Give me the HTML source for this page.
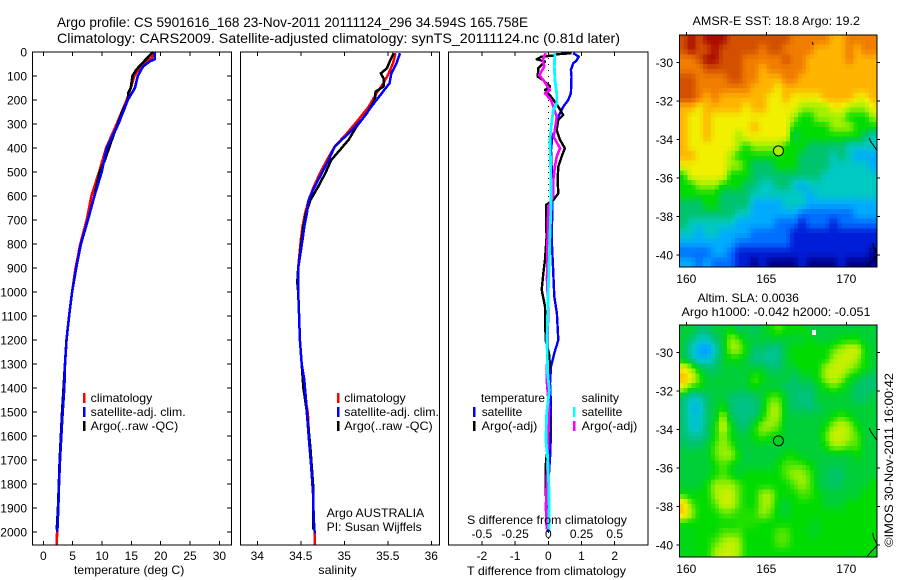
<!DOCTYPE html>
<html lang="en">
<head>
<meta charset="utf-8">
<title>Argo profile chart</title>
<style>
html,body{margin:0;padding:0;background:#fff;}
#chart{display:block;width:900px;height:580px;}
text{font-family:"Liberation Sans",sans-serif;font-size:12px;fill:#000;}
.t14{font-size:14px;}
</style>
</head>
<body>
<svg id="chart" xmlns="http://www.w3.org/2000/svg" width="900" height="580" viewBox="0 0 900 580">
<rect width="900" height="580" fill="#fff"/>
<text class="t14" x="57" y="27" textLength="471" lengthAdjust="spacingAndGlyphs">Argo profile: CS 5901616_168 23-Nov-2011 20111124_296 34.594S 165.758E</text>
<text class="t14" x="57" y="43" textLength="563" lengthAdjust="spacingAndGlyphs">Climatology: CARS2009. Satellite-adjusted climatology: synTS_20111124.nc (0.81d later)</text>

<g id="p1"></g>
<g id="p2"></g>
<g id="p3"></g>
<g id="m1"></g>
<g id="m2"></g>

<text x="74" y="574" textLength="110.3" lengthAdjust="spacingAndGlyphs">temperature (deg C)</text>
<text x="318.3" y="574" textLength="38.4" lengthAdjust="spacingAndGlyphs">salinity</text>
<text x="467" y="575" textLength="159" lengthAdjust="spacingAndGlyphs">T difference from climatology</text>
<text x="467" y="524" textLength="160" lengthAdjust="spacingAndGlyphs">S difference from climatology</text>

<g>
<rect x="83" y="393" width="2.5" height="10" fill="#f00"/>
<rect x="83" y="407" width="2.5" height="10" fill="#00f"/>
<rect x="83" y="421" width="2.5" height="10" fill="#000"/>
<text x="90.7" y="402" textLength="61.6" lengthAdjust="spacingAndGlyphs">climatology</text>
<text x="90.7" y="416" textLength="95" lengthAdjust="spacingAndGlyphs">satellite-adj. clim.</text>
<text x="90.7" y="430" textLength="87.6" lengthAdjust="spacingAndGlyphs">Argo(..raw -QC)</text>
</g>
<g>
<rect x="337" y="393" width="2.5" height="10" fill="#f00"/>
<rect x="337" y="407" width="2.5" height="10" fill="#00f"/>
<rect x="337" y="421" width="2.5" height="10" fill="#000"/>
<text x="344.3" y="402" textLength="61.4" lengthAdjust="spacingAndGlyphs">climatology</text>
<text x="344.3" y="416" textLength="94.7" lengthAdjust="spacingAndGlyphs">satellite-adj. clim.</text>
<text x="344.3" y="430" textLength="88.4" lengthAdjust="spacingAndGlyphs">Argo(..raw -QC)</text>
<text x="326.7" y="517" textLength="97.6" lengthAdjust="spacingAndGlyphs">Argo AUSTRALIA</text>
<text x="326.7" y="531" textLength="95" lengthAdjust="spacingAndGlyphs">PI: Susan Wijffels</text>
</g>
<g>
<text x="481" y="402" textLength="64" lengthAdjust="spacingAndGlyphs">temperature</text>
<text x="481.7" y="416" textLength="40.6" lengthAdjust="spacingAndGlyphs">satellite</text>
<text x="481.7" y="430" textLength="55.6" lengthAdjust="spacingAndGlyphs">Argo(-adj)</text>
<text x="581.7" y="402" textLength="37.3" lengthAdjust="spacingAndGlyphs">salinity</text>
<text x="581.7" y="416" textLength="40.6" lengthAdjust="spacingAndGlyphs">satellite</text>
<text x="581.7" y="430" textLength="55.6" lengthAdjust="spacingAndGlyphs">Argo(-adj)</text>
<rect x="473" y="407" width="2.5" height="10" fill="#00f"/>
<rect x="473" y="421" width="2.5" height="10" fill="#000"/>
<rect x="573" y="407" width="2.5" height="10" fill="#0ff"/>
<rect x="573" y="421" width="2.5" height="10" fill="#f0f"/>
</g>

<text x="692.5" y="25" textLength="167.5" lengthAdjust="spacingAndGlyphs">AMSR-E SST: 18.8 Argo: 19.2</text>
<text x="697.5" y="302" textLength="101.5" lengthAdjust="spacingAndGlyphs">Altim. SLA: 0.0036</text>
<text x="681.5" y="316" textLength="189" lengthAdjust="spacingAndGlyphs">Argo h1000: -0.042 h2000: -0.051</text>
<text transform="translate(893,547) rotate(-90)" textLength="174" lengthAdjust="spacingAndGlyphs">©IMOS 30-Nov-2011 16:00:42</text>
</svg>

<script>
// ---- shared depth axis ----
const depthTicks = [0,100,200,300,400,500,600,700,800,900,1000,1100,1200,1300,1400,1500,1600,1700,1800,1900,2000];

// ---- temperature panel ----
const tempTicks = [0,5,10,15,20,25,30];
const tempClimDepth = [0,25,50,100,150,200,300,400,500,600,700,800,900,1000,1100,1200,1300,1400,1500,1600,1700,1800,1900,2000,2054];
const tempClim = [18.6,18.5,16.8,15.5,14.9,14.2,12.5,10.7,9.5,8.2,7.4,6.3,5.5,4.9,4.4,3.95,3.7,3.55,3.2,3.0,2.85,2.67,2.56,2.35,2.28];
const tempSatDepth = [0,25,30,40,60,100,150,200,300,400,500,600,700,800,900,1000,1100,1200,1300,1400,1500,1600,1700,1800,1900,2000];
const tempSat = [19.0,19.0,19.0,18.1,17.0,16.1,15.6,14.4,12.8,10.8,9.95,8.7,7.6,6.4,5.6,4.9,4.4,3.95,3.7,3.58,3.3,3.07,2.85,2.67,2.56,2.39];
const tempArgoDepth = [0,20,35,75,100,150,170,200,250,300,350,400,450,500,600,700,800,900,1000,1100,1200,1300,1400,1500,1600,1700,1800,1900,1990];
const tempArgo = [18.7,17.9,17.3,15.8,15.2,14.9,14.5,14.4,13.4,12.7,11.9,11.2,10.5,9.6,8.7,7.6,6.4,5.6,4.9,4.4,3.95,3.7,3.45,3.2,3.0,2.8,2.65,2.5,2.3];

// ---- salinity panel ----
const salTicks = [34,34.5,35,35.5,36];
const salClimDepth = [5,47,89,130,172,228,283,339,394,450,506,561,617,672,728,783,900,1000,1100,1200,1300,1400,1500,1644,1728,1839,1950,2006,2054];
const salClim = [35.59,35.56,35.51,35.45,35.37,35.28,35.16,35.03,34.89,34.80,34.72,34.65,34.59,34.55,34.52,34.50,34.47,34.47,34.48,34.49,34.51,34.53,34.58,34.60,34.62,34.64,34.65,34.66,34.66];
const salSatDepth = [5,47,89,130,172,228,283,339,394,450,506,561,617,672,728,783,900,1000,1100,1200,1300,1367,1450,1506,1644,1728,1839,1950,2006];
const salSat = [35.64,35.60,35.54,35.52,35.43,35.31,35.20,35.05,34.89,34.82,34.74,34.66,34.59,34.57,34.54,34.52,34.47,34.47,34.48,34.49,34.51,34.54,34.56,34.57,34.60,34.62,34.64,34.65,34.66];
const salArgoDepth = [5,33,68,89,110,144,165,200,255,311,366,408,450,506,561,617,672,728,783,900,960,1000,1100,1200,1300,1400,1500,1650,1800,1990];
const salArgo = [35.57,35.53,35.49,35.42,35.45,35.45,35.36,35.35,35.26,35.14,35.05,34.95,34.85,34.78,34.70,34.61,34.56,34.53,34.51,34.47,34.46,34.47,34.48,34.49,34.51,34.53,34.57,34.61,34.64,34.64];

// ---- difference panel ----
const tDiffTicks = [-2,-1,0,1,2];
const sDiffTicks = [-0.5,-0.25,0,0.25,0.5];
const sDiffTickLabels = ["-0.5","-0.25","0","0.25","0.5"];
const tSatDepth = [5,19,36,47,75,103,172,200,228,269,311,353,408,478,547,644,672,769,922,1019,1089,1200,1255,1311,1380,1477,1561,1672,1755,1894,2000];
const tSatDiff = [0.75,0.92,0.85,0.75,0.68,0.70,0.68,0.60,0.45,0.30,0.25,0.12,0.08,0.10,0.10,0.12,0.12,0.10,0.15,0.18,0.26,0.30,0.18,0.08,0.05,0.08,0.08,0.06,0.02,0.02,0];
const tArgoDepth = [5,10,14,19,30,40,68,103,117,144,158,186,228,263,283,325,366,401,436,478,533,589,617,637,700,769,866,922,991,1061,1200,1255,1311,1366,1450,1561,1616,1700,1825,1894,1990];
const tArgoDiff = [0.7,0.2,0.2,-0.2,-0.35,-0.1,-0.3,-0.32,-0.15,0.05,-0.1,0.08,0.3,0.45,0.30,0.25,0.35,0.5,0.4,0.3,0.28,0.3,0.15,-0.07,-0.07,-0.05,-0.1,-0.15,-0.2,-0.1,-0.08,0.02,0.05,-0.05,0,0.05,0.03,-0.07,-0.08,-0.05,-0.05];
const sSatDepth = [5,61,117,172,214,242,297,366,478,575,644,769,991,1200,1339,1408,1505,1616,1686,1825,1990];
const sSatDiff = [0.05,0.045,0.05,0.063,0.063,0.038,0.025,0.012,0.018,0.02,0.02,0.012,0,-0.01,-0.005,0.008,-0.012,-0.018,-0.005,0.005,0.005];
const sArgoDepth = [5,33,61,96,117,158,172,200,228,269,325,353,401,436,478,533,603,644,769,950,1061,1200,1366,1477,1616,1894,1990];
const sArgoDiff = [-0.02,-0.043,-0.03,-0.068,-0.038,0.012,-0.025,0.02,0.038,0.063,0.05,0.04,0.088,0.063,0.05,0.038,0.038,0,-0.005,-0.01,0,-0.005,-0.012,0.005,0,-0.018,-0.012];

// ---- maps ----
const lonTicks = [160,165,170];
const latTicks = [-30,-32,-34,-36,-38,-40];
const profileLon = 165.758;
const profileLat = -34.594;
const sstProfileLevel = 7;
const coastNorthLon = [171.43,171.52,171.9];
const coastNorthLat = [-33.92,-34.1,-34.55];
const coastSouthLon = [171.65,171.7,171.95,171.31];
const coastSouthLat = [-39.37,-39.6,-40.0,-40.57];
const coastIslandLon = [167.87,167.94];
const coastIslandLat = [-28.95,-29.1];
const sstCells = [
[11,12,11,12,12,12,11,11,11,11,11,11,11,11,10,10,10,10,10,9,9,10,10,10,10],
[11,12,11,11,12,11,11,11,11,11,10,11,11,10,10,10,10,9,9,9,9,10,9,10,10],
[10,10,11,12,12,11,11,11,10,10,10,10,10,11,10,10,9,9,9,9,9,10,9,9,9],
[10,10,10,11,11,11,11,11,10,10,9,10,10,10,10,10,9,9,9,9,9,9,9,9,9],
[11,11,10,10,10,10,11,11,10,10,9,9,9,10,10,9,9,9,9,9,9,9,9,9,9],
[11,11,10,10,10,10,10,10,10,9,9,9,8,9,9,9,9,9,9,9,9,9,9,9,9],
[11,11,10,9,10,9,9,9,9,9,9,8,8,9,8,8,8,8,9,9,9,9,8,8,9],
[9,9,8,9,9,9,9,9,8,9,9,8,8,8,8,7,7,7,7,8,8,7,7,7,8],
[9,8,8,9,8,8,8,8,8,8,8,8,8,8,7,6,6,7,7,7,7,6,6,6,7],
[9,8,8,9,8,8,8,8,8,9,8,8,8,8,6,6,6,6,6,7,7,7,6,6,6],
[9,8,8,9,8,8,8,7,8,8,8,8,8,8,5,6,6,6,6,6,6,6,6,5,4],
[9,8,8,8,8,8,8,7,6,7,7,7,7,6,6,6,5,5,5,5,5,4,4,4,4],
[9,9,8,8,8,8,7,6,6,6,6,6,6,6,6,5,5,5,5,4,5,4,3,3,3],
[8,8,8,8,8,8,7,7,6,5,5,5,6,6,6,5,5,5,5,4,4,4,4,4,3],
[6,8,8,8,8,8,6,6,6,5,5,5,5,5,5,5,5,5,4,4,4,4,4,4,4],
[6,6,7,7,7,6,6,6,5,5,4,4,5,5,4,3,4,4,4,4,4,4,4,4,4],
[6,6,6,6,6,5,5,5,5,4,4,4,4,4,4,4,3,4,4,4,4,4,4,4,4],
[5,5,5,6,6,5,5,5,5,3,3,3,3,4,4,4,3,3,3,3,3,3,3,3,3],
[5,5,5,5,5,5,5,4,4,3,3,3,3,3,3,2,2,2,2,2,2,2,3,3,3],
[5,4,4,4,4,4,4,3,3,3,3,3,2,2,2,1,2,2,2,1,2,2,2,2,2],
[4,4,3,4,4,3,3,3,3,2,2,2,2,2,1,1,1,1,1,1,1,1,1,1,1],
[3,3,3,3,3,3,3,2,2,2,2,2,2,2,1,1,1,1,1,1,1,1,1,1,1],
[2,2,2,2,3,3,2,1,1,1,1,1,1,1,1,1,1,1,1,1,1,1,1,1,0],
[3,3,2,3,2,2,2,1,1,0,1,0,0,0,0,1,0,0,0,0,1,0,0,0,0]
];
const slaCells = [
[5.5,5.5,5,5,5.5,5.5,6,5,5.5,5,5.5,6,6.5,6,6,6,5.5,5.5,5.5,5.5,5.5,5.5,5.5,5.5,5.5],
[5.5,5,4,4,5,5.5,7,6.5,5.5,5.5,5.5,5.5,5.5,5.5,5.5,5.5,6,5.5,5.5,5.5,6,6,6,5.5,5.5],
[5.5,4,3,2.5,4,5.5,7,7,6,5,5,4.7,4.7,5.5,6,6,6,6,6,6.5,7,7.5,7.5,6,5.5],
[5.5,4.5,3.5,3.5,4.5,5.5,6,6,5.5,4.7,4.7,4.5,4.7,5.5,6,6,6,6,6,7,7.5,7.5,7,6,5.5],
[8,7,5.5,5,5,5.5,5.5,5.5,5.5,5.5,5.5,5,5,5.5,5.5,6,6,6,7,7.5,7.5,7,6.5,6,5.5],
[9,8,6.5,5.5,5.5,5.5,5.5,5.5,5.5,6.5,6,5.5,5.5,5.5,5,5.5,5.5,6,7,7.5,7,6,5.5,5,5],
[7.5,6,6,5.5,5.5,5.5,5.5,5.5,5.5,6,5.5,5.5,5.5,5,5,5,5,5.5,6,6.5,6,5.5,5,5,5],
[5,4,4.2,5,5.5,5.5,5,4.8,4.8,5,5.5,6.5,6.5,5.5,5,4.8,4.8,5.5,5.5,5.5,5.5,5.5,5,5,5.5],
[5,3.5,3.5,5,5.5,6,5,4.7,4.7,4.7,5.5,7,7,5.5,5,5,4.8,5.2,5.5,5.5,5.5,5.5,5.5,5.5,5.5],
[5,3.8,3.8,5,5.5,7.2,5.2,4.8,4.8,5,6,7,7,5.5,5.5,5.5,5.5,5.5,5.5,6,6.5,6,5.5,5.5,5.5],
[5,3.8,3.8,5,6,7.5,6,5,5,6,7,7,6.5,5.5,5.5,5.5,5.5,5.5,6,7,7.5,7,6,5.5,5.5],
[5,4.5,4.5,5,6,7,6,5.5,5.5,6,6.5,6,6,5.5,5.5,5.5,5.5,5.5,6.5,7.5,7.5,7,6.5,5.5,5.5],
[5.2,5.2,5.2,5.5,6.5,7,6.5,5.5,5.5,5.5,5.5,5.5,5.5,5.5,5.5,5.5,5.5,5.5,6,7,7,6.5,6.5,5.5,5.5],
[5.5,5.5,5.5,5.5,6.5,7,7,6,5.3,5.5,5.5,5.5,5.5,6,6,5.5,5.5,5.5,5.5,5.5,5.5,5.5,6,5.5,5.5],
[5.5,5.5,5.5,5.5,6,6.5,6,5.5,5.5,5.5,5.5,5.5,6,6.5,6.5,6.5,6,5.5,5.3,5.3,5.3,5.5,5.5,5.5,5.5],
[5.5,5.5,5.5,5.5,6,6.5,6,5.5,6,6,6,6,6,6.5,7,7,6.5,5.5,5.3,5,5,5.5,5.5,5.5,5.5],
[5.5,5.5,5.5,6,7,7,7,6.5,6,6,6,6,6,6,6.5,7,6.5,5.5,5.3,5,5.3,5.5,5.5,5.5,6],
[6,5.8,6,6,7,7.5,7.5,6.5,6,6,7,7,6,6,6,6.5,6.3,6,5.5,5.5,5.5,5.5,5.5,6,6],
[8.5,6.5,6,6,6.5,7.5,7.5,6.5,6,6,7,7,5.8,5.5,6,6,6,6,5.5,5.5,5.5,6,6,6,6],
[8.7,7,6,6,6,6.5,6.5,6.2,6.2,6.2,7,6.5,5.8,5.5,6,6,6,6,6,6,6,6,6,6,6],
[6,6,6,6,6,6,6,6.2,6.2,6.2,6,6,6,6,6,6,5.8,5.7,6,6,6,6,6,6,6],
[5.8,5.8,6,6,6,6.5,6.5,6.5,6,6,6,6,6.5,6.5,6,6,5.7,5.7,6,6,6,6,6,6,6],
[5.8,5.8,6,6,6.5,7,7.5,7,6,6,6,6,6.5,6.5,6,6,6,6,6,6,6,6,6,6,6],
[5.8,5.8,6,6,7,7.5,7.5,7,6,6,6,6,6,6,6,6,6,6,6,6,6,5.8,6,6,6]
];
</script>
<script>
const NS = 'http://www.w3.org/2000/svg';
const DEPTH_TOP = 52, DEPTH_SCALE = 0.24;
const yDepth = d => DEPTH_TOP + d * DEPTH_SCALE;
const xTemp = t => 43.3 + t * 5.87;
const xSal = s => 257.3 + (s - 34) * 87;
const xTDiff = t => 548.3 + t * 33.2;
const xSDiff = s => 548.3 + s * 132.8;

function mk(parent, tag, attrs, txt) {
  const el = document.createElementNS(NS, tag);
  for (const k in attrs) el.setAttribute(k, attrs[k]);
  if (txt !== undefined) el.textContent = txt;
  parent.appendChild(el);
  return el;
}
function tickLine(parent, x1, y1, x2, y2) {
  const el = mk(parent, 'line', {x1, y1, x2, y2, stroke: '#000', 'stroke-width': 1, 'shape-rendering': 'crispEdges'});
  
  
  return el;
}
function label(parent, x, y, anchor, txt) {
  const el = mk(parent, 'text', {x, y, 'text-anchor': anchor}, txt);
  
  
  return el;
}
function frame(parent, x, y, w, h) {
  const el = mk(parent, 'rect', {x, y, width: w, height: h, fill: 'none', stroke: '#000', 'stroke-width': 1.2, 'shape-rendering': 'crispEdges'});
  
  
  return el;
}
function series(parent, xs, depths, xFn, color, width, name) {
  const pts = xs.map((v, i) => xFn(v).toFixed(1) + ',' + yDepth(depths[i]).toFixed(1)).join(' ');
  const el = mk(parent, 'polyline', {points: pts, fill: 'none', stroke: color, 'stroke-width': width, 'stroke-linejoin': 'round', 'shape-rendering': 'crispEdges'});
  
  
  return el;
}

const PANEL_TOP = 52, PANEL_BOTTOM = 545;

// temperature panel
const p1 = document.getElementById('p1');
series(p1, tempClim, tempClimDepth, xTemp, '#f00', 2.6, 'climatology-line');
series(p1, tempArgo, tempArgoDepth, xTemp, '#000', 2.6, 'argo-line');
series(p1, tempSat, tempSatDepth, xTemp, '#00f', 2.6, 'satellite-line');
frame(p1, 32.5, PANEL_TOP, 199, PANEL_BOTTOM - PANEL_TOP);
tempTicks.forEach(t => {
  tickLine(p1, xTemp(t), PANEL_TOP, xTemp(t), PANEL_TOP + 4);
  tickLine(p1, xTemp(t), PANEL_BOTTOM, xTemp(t), PANEL_BOTTOM - 4);
  label(p1, xTemp(t), 560, 'middle', String(t));
});
depthTicks.forEach(d => {
  tickLine(p1, 32.5, yDepth(d), 37, yDepth(d));
  tickLine(p1, 231.5, yDepth(d), 227, yDepth(d));
  label(p1, 27, yDepth(d) + 4.5, 'end', String(d));
});

// salinity panel
const p2 = document.getElementById('p2');
series(p2, salClim, salClimDepth, xSal, '#f00', 2.5, 'climatology-line');
series(p2, salArgo, salArgoDepth, xSal, '#000', 2.5, 'argo-line');
series(p2, salSat, salSatDepth, xSal, '#00f', 2.5, 'satellite-line');
frame(p2, 240.5, PANEL_TOP, 199, PANEL_BOTTOM - PANEL_TOP);
salTicks.forEach(s => {
  tickLine(p2, xSal(s), PANEL_TOP, xSal(s), PANEL_TOP + 4);
  tickLine(p2, xSal(s), PANEL_BOTTOM, xSal(s), PANEL_BOTTOM - 4);
  label(p2, xSal(s), 560, 'middle', String(s));
});

// difference panel
const p3 = document.getElementById('p3');
const zeroLine = mk(p3, 'line', {x1: xTDiff(0), y1: PANEL_TOP, x2: xTDiff(0), y2: PANEL_BOTTOM, stroke: '#000', 'stroke-width': 1, 'stroke-dasharray': '1 5', 'shape-rendering': 'crispEdges'});


series(p3, tSatDiff, tSatDepth, xTDiff, '#00f', 2.4, 't-satellite-line');
series(p3, tArgoDiff, tArgoDepth, xTDiff, '#000', 2.4, 't-argo-line');
series(p3, sArgoDiff, sArgoDepth, xSDiff, '#f0f', 2.6, 's-argo-line');
series(p3, sSatDiff, sSatDepth, xSDiff, '#0ff', 2.8, 's-satellite-line');
frame(p3, 448.5, PANEL_TOP, 199.5, PANEL_BOTTOM - PANEL_TOP);
tDiffTicks.forEach(t => {
  tickLine(p3, xTDiff(t), PANEL_TOP, xTDiff(t), PANEL_TOP + 4);
  tickLine(p3, xTDiff(t), PANEL_BOTTOM, xTDiff(t), PANEL_BOTTOM - 4);
  label(p3, xTDiff(t), 560, 'middle', String(t));
});
sDiffTicks.forEach((s, i) => {
  label(p3, xSDiff(s), 538, 'middle', sDiffTickLabels[i]);
});

// colour scale for map levels (0 = cold/low, 12 = warm/high)
const ramp = [[0,0,140],[0,30,215],[0,110,255],[0,170,255],[0,200,195],[0,195,110],[0,220,0],[160,240,0],[240,240,0],[255,180,0],[240,125,0],[210,80,0],[170,10,0]];
function levelColor(v) {
  const c = Math.max(0, Math.min(ramp.length - 1, v));
  const i = Math.min(ramp.length - 2, Math.floor(c));
  const f = c - i;
  const m = ramp[i].map((a, k) => Math.round(a + (ramp[i + 1][k] - a) * f));
  return 'rgb(' + m.join(',') + ')';
}
// sample the read grid at a fractional grid position for the map's finer display pixels
function sampleGrid(cells, u, v) {
  const rows = cells.length, cols = cells[0].length;
  const cu = Math.max(0, Math.min(cols - 1, u)), cv = Math.max(0, Math.min(rows - 1, v));
  const c0 = Math.min(cols - 2, Math.floor(cu)), r0 = Math.min(rows - 2, Math.floor(cv));
  const fu = cu - c0, fv = cv - r0;
  const top = cells[r0][c0] * (1 - fu) + cells[r0][c0 + 1] * fu;
  const bot = cells[r0 + 1][c0] * (1 - fu) + cells[r0 + 1][c0 + 1] * fu;
  return top * (1 - fv) + bot * fv;
}

function drawMap(id, cells, top, bottomLabelY, fillMarker) {
  const g = document.getElementById(id);
  const L = 679.5, R = 877, H = 232, W = R - L;
  const xLon = lon => 686.3 + (lon - 160) * 16;
  const yLat = lat => top + 27.3 + (-30 - lat) * 19.27;
  const rows = cells.length * 2, cols = cells[0].length * 2;
  const cw = W / cols, ch = H / rows;
  for (let r = 0; r < rows; r++) {
    for (let c = 0; c < cols; c++) {
      const val = sampleGrid(cells, (c + 0.5) / 2 - 0.5, (r + 0.5) / 2 - 0.5);
      const cell = mk(g, 'rect', {x: (L + c * cw).toFixed(2), y: (top + r * ch).toFixed(2), width: (cw + 0.4).toFixed(2), height: (ch + 0.4).toFixed(2), fill: levelColor(val), 'shape-rendering': 'crispEdges'});
      
      
    }
  }
  [[coastNorthLon, coastNorthLat], [coastSouthLon, coastSouthLat], [coastIslandLon, coastIslandLat]].forEach(pair => {
    const pts = pair[0].map((lon, i) => xLon(lon).toFixed(1) + ',' + yLat(pair[1][i]).toFixed(1)).join(' ');
    const coast = mk(g, 'polyline', {points: pts, fill: 'none', stroke: '#000', 'stroke-width': 1});
    
    
  });
  frame(g, L, top, W, H);
  lonTicks.forEach(lon => {
    tickLine(g, xLon(lon), top, xLon(lon), top - 3);
    label(g, xLon(lon), bottomLabelY, 'middle', String(lon));
  });
  latTicks.forEach(lat => {
    tickLine(g, L, yLat(lat), L - 3, yLat(lat));
    tickLine(g, R, yLat(lat), R + 3, yLat(lat));
    label(g, 673, yLat(lat) + 4.5, 'end', String(lat));
  });
  const marker = mk(g, 'circle', {cx: xLon(profileLon), cy: yLat(profileLat), r: 5, fill: fillMarker, stroke: '#000', 'stroke-width': 1});
  
  
}
drawMap('m1', sstCells, 35, 283, levelColor(sstProfileLevel));
drawMap('m2', slaCells, 325, 573, 'none');
const land = mk(document.getElementById('m2'), 'rect', {x: 812, y: 330, width: 4, height: 5, fill: '#fff'});


</script>
</body>
</html>
